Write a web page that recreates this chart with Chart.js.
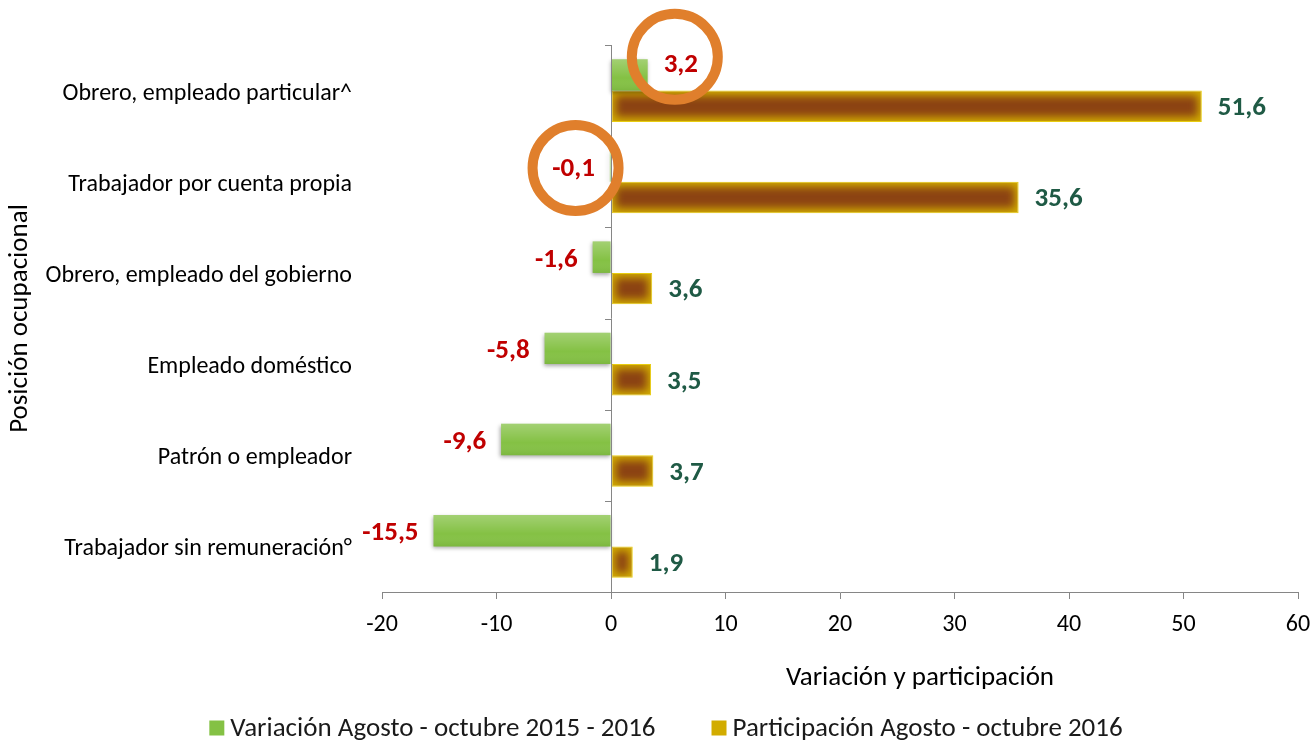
<!DOCTYPE html>
<html>
<head>
<meta charset="utf-8">
<script src="https://cdn.jsdelivr.net/npm/chart.js@4.4.1/dist/chart.umd.min.js"></script>
<style>
html,body{margin:0;padding:0;background:#fff;}
#wrap{width:1312px;height:741px;position:relative;}
</style>
</head>
<body>
<div id="wrap"><canvas id="c" width="1312" height="741"></canvas></div>
<script>
const categories = [
  'Obrero, empleado particular^',
  'Trabajador por cuenta propia',
  'Obrero, empleado del gobierno',
  'Empleado doméstico',
  'Patrón o empleador',
  'Trabajador sin remuneración°'
];
const variacion = [3.2, -0.1, -1.6, -5.8, -9.6, -15.5];
const participacion = [51.6, 35.6, 3.6, 3.5, 3.7, 1.9];
const seriesNames = ['Variación Agosto - octubre 2015 - 2016', 'Participación Agosto - octubre 2016'];
const seriesColors = ['#84c144', '#d2ac00'];
const xMin = -20, xMax = 60, xStep = 10;
const xTitle = 'Variación y participación';
const yTitle = 'Posición ocupacional';
const circledLabels = [0, 1]; // indices of the variación labels that are circled

const FONT = 'Carlito, Calibri, Lato, sans-serif';
const fmt = v => v.toFixed(1).replace('.', ',');

const decorPlugin = {
  id: 'decor',
  beforeDatasetDraw(chart, args) {
    if (args.index === 0) {
      const ctx = chart.ctx;
      ctx.save();
      ctx.shadowColor = 'rgba(0,0,0,0.35)';
      ctx.shadowBlur = 4;
      ctx.shadowOffsetX = -1;
      ctx.shadowOffsetY = 2;
    }
  },
  afterDatasetDraw(chart, args) {
    const ctx = chart.ctx;
    const meta = args.meta;
    if (args.index === 0) {
      ctx.restore();
      meta.data.forEach(el => {
        const p = el.getProps(['x', 'y', 'base', 'height'], true);
        const l = Math.min(p.x, p.base), w = Math.abs(p.x - p.base);
        const t = p.y - p.height / 2;
        const g = ctx.createLinearGradient(0, t, 0, t + p.height);
        g.addColorStop(0, 'rgba(255,255,255,0.25)');
        g.addColorStop(0.6, 'rgba(255,255,255,0.0)');
        g.addColorStop(1, 'rgba(60,110,20,0.12)');
        ctx.fillStyle = g;
        ctx.fillRect(l, t, w, p.height);
      });
    } else if (args.index === 1) {
      meta.data.forEach(el => {
        const p = el.getProps(['x', 'y', 'base', 'height'], true);
        const l = Math.min(p.x, p.base), w = Math.abs(p.x - p.base);
        const t = p.y - p.height / 2, h = p.height;
        ctx.save();
        ctx.beginPath();
        ctx.rect(l + 1, t + 1, w - 2, h - 2);
        ctx.clip();
        const inset = Math.min(4, w / 5);
        ctx.filter = 'blur(4px)';
        ctx.fillStyle = '#8b4212';
        ctx.fillRect(l + inset, t + 5, Math.max(1, w - 2 * inset), h - 10);
        ctx.restore();
      });
    }
  },
  afterDatasetsDraw(chart) {
    const ctx = chart.ctx;
    const xs = chart.scales.x;
    const area = chart.chartArea;
    const x0 = Math.round(xs.getPixelForValue(0));
    // zero axis line with category ticks
    ctx.save();
    ctx.strokeStyle = '#868686';
    ctx.lineWidth = 1;
    ctx.beginPath();
    ctx.moveTo(x0 + 0.5, area.top);
    ctx.lineTo(x0 + 0.5, area.bottom);
    const n = categories.length;
    for (let i = 0; i <= n; i++) {
      const y = Math.round(area.top + i * (area.bottom - area.top) / n) + 0.5;
      ctx.moveTo(x0 - 6, y);
      ctx.lineTo(x0 + 0.5, y);
    }
    ctx.stroke();
    ctx.restore();

    // data labels
    ctx.save();
    ctx.font = 'bold 27px ' + FONT;
    ctx.textBaseline = 'middle';
    const m0 = chart.getDatasetMeta(0), m1 = chart.getDatasetMeta(1);
    const labelCenters = [];
    m0.data.forEach((el, i) => {
      const p = el.getProps(['x', 'y'], true);
      const v = variacion[i];
      const txt = fmt(v);
      const tw = ctx.measureText(txt).width;
      ctx.fillStyle = '#c00000';
      let cx, cy;
      if (v >= 0) { cy = p.y - 10; ctx.textAlign = 'left'; ctx.fillText(txt, p.x + 16, cy); cx = p.x + 16 + tw / 2; }
      else { cy = p.y + 3; ctx.textAlign = 'right'; ctx.fillText(txt, p.x - 15, cy); cx = p.x - 15 - tw / 2; }
      labelCenters.push({ x: cx, y: cy });
    });
    m1.data.forEach((el, i) => {
      const p = el.getProps(['x', 'y'], true);
      ctx.fillStyle = '#1f5a45';
      ctx.textAlign = 'left';
      ctx.fillText(fmt(participacion[i]), p.x + 16, p.y + 2);
    });
    ctx.restore();

    // highlight rings
    ctx.save();
    ctx.strokeStyle = '#e07f2c';
    ctx.lineWidth = 10;
    circledLabels.forEach((idx, k) => {
      const c = labelCenters[idx];
      const dx = k === 0 ? -6 : 2, dy = k === 0 ? -8 : -1;
      ctx.beginPath();
      ctx.arc(c.x + dx, c.y + dy, 43, 0, Math.PI * 2);
      ctx.stroke();
    });
    ctx.restore();

    // x axis title (offset to the right as in the source)
    ctx.save();
    ctx.font = '27px ' + FONT;
    ctx.fillStyle = '#000';
    ctx.textAlign = 'center';
    ctx.textBaseline = 'middle';
    ctx.fillText(xTitle, (area.left + area.right) / 2 + 80, 678);
    ctx.restore();

    // legend
    ctx.save();
    ctx.font = '27px ' + FONT;
    ctx.textBaseline = 'middle';
    ctx.textAlign = 'left';
    const box = 15, gapTxt = 6, gapItem = 56;
    const widths = seriesNames.map(s => ctx.measureText(s).width);
    const total = widths.reduce((a, w) => a + box + gapTxt + w, 0) + gapItem * (seriesNames.length - 1);
    let x = chart.width / 2 + 10 - total / 2;
    const ly = 728;
    seriesNames.forEach((s, i) => {
      ctx.fillStyle = seriesColors[i];
      ctx.fillRect(x, ly - box / 2, box, box);
      ctx.fillStyle = '#1a1a1a';
      ctx.fillText(s, x + box + gapTxt, ly + 1);
      x += box + gapTxt + widths[i] + gapItem;
    });
    ctx.restore();
  }
};

new Chart(document.getElementById('c'), {
  type: 'bar',
  data: {
    labels: categories,
    datasets: [
      {
        label: seriesNames[0],
        data: variacion,
        backgroundColor: seriesColors[0],
        borderWidth: 0,
        categoryPercentage: 0.69,
        barPercentage: 1.0
      },
      {
        label: seriesNames[1],
        data: participacion,
        backgroundColor: seriesColors[1],
        borderColor: '#e8cc10',
        borderWidth: 1,
        borderSkipped: false,
        categoryPercentage: 0.69,
        barPercentage: 1.0
      }
    ]
  },
  options: {
    indexAxis: 'y',
    responsive: false,
    animation: false,
    layout: { padding: { top: 45, right: 0, left: 0, bottom: 44 } },
    plugins: {
      tooltip: { enabled: false },
      legend: { display: false }
    },
    scales: {
      x: {
        min: xMin, max: xMax,
        ticks: {
          stepSize: xStep,
          color: '#000',
          padding: 12,
          maxRotation: 0,
          font: { family: FONT, size: 24 },
          callback: v => String(v)
        },
        grid: { drawOnChartArea: false, drawTicks: true, tickLength: 7, color: '#868686' },
        border: { display: true, color: '#868686' },
        title: { display: false },
        afterFit(scale) { scale.height = 105; scale.paddingLeft = 0; scale.paddingRight = 14; }
      },
      y: {
        ticks: {
          color: '#000', padding: 22, labelOffset: 3,
          font: { family: FONT, size: 24 }
        },
        grid: { display: false },
        border: { display: false },
        title: {
          display: true, text: yTitle, color: '#000',
          font: { family: FONT, size: 27 },
          padding: { top: 4, bottom: 0 }
        },
        afterFit(scale) { scale.width = 382; }
      }
    }
  },
  plugins: [decorPlugin]
});
</script>
</body>
</html>
